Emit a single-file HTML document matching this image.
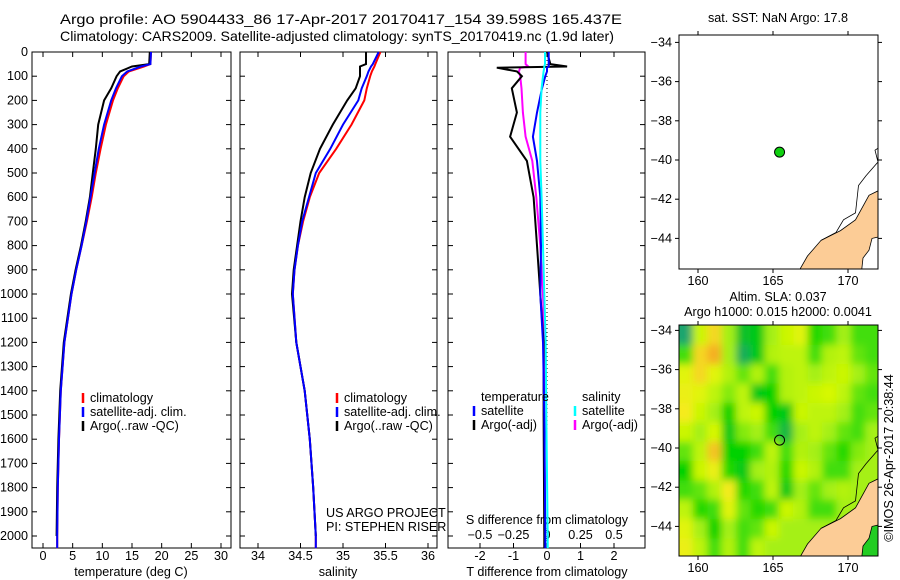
<!DOCTYPE html>
<html><head><meta charset="utf-8"><style>
html,body{margin:0;padding:0;background:#fff}
svg{display:block;font-family:"Liberation Sans",sans-serif}
text{font-size:12.6px;fill:#000}
</style></head><body>
<svg id="chart" width="900" height="580" viewBox="0 0 900 580">
<text x="60" y="24" style="font-size:14px" textLength="562" lengthAdjust="spacingAndGlyphs">Argo profile: AO 5904433_86 17-Apr-2017 20170417_154 39.598S 165.437E</text>
<text x="60" y="41" style="font-size:14px" textLength="554" lengthAdjust="spacingAndGlyphs">Climatology: CARS2009. Satellite-adjusted climatology: synTS_20170419.nc (1.9d later)</text>
<g id="g"></g>
</svg>
<script>
// ---- data ----
const depths=[0,50,60,80,100,150,200,300,400,500,600,700,800,900,1000,1200,1400,1600,1800,2000,2050];
const climT=[18.2,18.1,17,14.5,13.6,12.6,11.8,10.6,9.7,8.9,8.2,7.4,6.5,5.6,4.8,3.6,3.0,2.7,2.5,2.4,2.4];
const satT=[18.2,18.1,16.5,14.2,13.3,12.3,11.5,10.3,9.4,8.7,8.0,7.3,6.5,5.6,4.8,3.6,3.0,2.7,2.5,2.4,2.4];
const argoT=[18.0,17.9,15,13.0,12.4,11.5,10.3,9.3,8.9,8.4,7.9,7.2,6.4,5.5,4.7,3.5,2.9,2.6,2.4,2.3,2.3];
const climS=[35.44,35.38,35.37,35.34,35.32,35.28,35.25,35.1,34.92,34.72,34.61,34.53,34.47,34.43,34.41,34.45,34.55,34.61,34.65,34.68,34.68];
const satS=[35.42,35.35,35.33,35.3,35.28,35.22,35.18,35.0,34.85,34.68,34.6,34.52,34.47,34.43,34.41,34.45,34.55,34.61,34.65,34.68,34.68];
const argoS=[35.27,35.27,35.2,35.2,35.2,35.15,35.05,34.88,34.73,34.62,34.55,34.5,34.46,34.42,34.40,34.45,34.55,34.61,34.65,34.68,34.68];
const diffDepths=[0,50,60,65,80,100,150,250,350,450,600,800,1000,1200,1500,2000,2050];
const argoTdiff=[0,0.1,0.6,-1.5,-0.9,-0.75,-1.05,-0.9,-1.1,-0.6,-0.4,-0.3,-0.2,-0.1,-0.1,-0.08,-0.08];
const satTdiff=[0.05,0.05,0.05,0.0,0.0,-0.05,-0.15,-0.3,-0.42,-0.3,-0.2,-0.18,-0.2,-0.12,-0.08,-0.05,-0.05];
const argoSdiff=[-0.16,-0.16,-0.14,-0.2,-0.21,-0.2,-0.19,-0.18,-0.16,-0.11,-0.08,-0.05,-0.03,-0.02,-0.02,-0.015,-0.015];
const satSdiff=[-0.015,-0.015,-0.02,-0.02,-0.025,-0.03,-0.04,-0.05,-0.05,-0.05,-0.04,-0.03,-0.02,-0.01,-0.005,0.005,0.005];
const depthTicks=[0,100,200,300,400,500,600,700,800,900,1000,1100,1200,1300,1400,1500,1600,1700,1800,1900,2000];
const tTicks=[0,5,10,15,20,25,30];
const sTicks=[34,34.5,35,35.5,36];
const tdTicks=[-2,-1,0,1,2];
const sdTicks=[-0.5,-0.25,0,0.25,0.5];
const sdTickLabels=["\u22120.5","\u22120.25","0","0.25","0.5"];
const lonTicks=[160,165,170];
const latTicks=[-34,-36,-38,-40,-42,-44];
const argoLon=165.437, argoLat=-39.598;
const slaGrid=[
[-1,0.3,0.8,0,-0.7,-0.6,0,0.3,0.5,-0.4,-0.3,0,-0.3,-0.3],
[-0.3,0.8,1,0,-0.9,-0.6,0.1,0.2,0.2,-0.3,0.1,0.2,-0.2,-0.3],
[0.5,0.8,0.5,0.1,-0.2,0.1,-0.3,0.1,0.2,0,0.2,0.3,0,-0.2],
[0.6,0.5,0.2,-0.1,0.2,-0.6,-0.5,0.1,0.2,0.3,0.4,0.2,-0.2,-0.3],
[0.7,0.3,0,-0.5,0.2,0.3,-0.5,-0.6,0.3,0.2,0.2,0,-0.3,-0.2],
[0.3,0,0.4,-0.6,-0.1,0,-0.3,-0.8,0,0.2,0,-0.2,-0.3,0],
[-0.2,0.2,0.9,-0.5,-0.5,-0.3,0.2,-0.3,0.1,0,-0.2,-0.4,-0.1,0],
[-0.5,0.3,0.6,-0.4,-0.6,0,0.1,-0.4,0.3,0.1,-0.3,-0.3,0,0],
[-0.3,-0.2,0.1,0.7,-0.4,-0.3,0.2,-0.6,0,-0.2,0,0.1,0,0],
[0.2,-0.4,-0.3,0.5,-0.2,-0.4,-0.3,0.3,0.1,-0.3,-0.3,0,0,0],
[0.5,0,-0.5,0,-0.3,-0.2,0.3,0,0,0,0,0,-0.5,-0.5],
[0.6,0.2,-0.3,0.1,-0.3,0.2,0,0,0,0,0,0,-0.5,-0.5]];
const landPoly=[[172.2,-41.5],[171.4,-41.8],[170.5,-43.05],[169.5,-43.6],[168.2,-44.1],[167.3,-44.9],[166.7,-45.7],[172.2,-45.7]];
const lakePoly=[[172.2,-43.9],[171.6,-44.0],[171.4,-44.6],[171.0,-45.0],[170.9,-45.7],[172.2,-45.7]];
const coastLine=[[172.2,-39.3],[171.8,-39.5],[172.0,-40.1],[171.2,-40.8],[170.7,-41.3],[170.5,-42.7],[169.7,-43.05],[169.2,-43.7],[168.2,-44.1]];

// ---- helpers ----
const NS="http://www.w3.org/2000/svg";
const G=document.getElementById('g');
function mk(tag,attrs,parent){const e=document.createElementNS(NS,tag);for(const k in attrs)e.setAttribute(k,attrs[k]);(parent||G).appendChild(e);return e;}
function txt(x,y,s,anchor,parent){const t=mk('text',{x:x,y:y,'text-anchor':anchor||'start'},parent);t.textContent=s;return t;}
const Y0=52, PY=0.242;
function yD(d){return Y0+d*PY;}
const BOT=548;
function scale(v0,x0,v1,x1){return v=>x0+(v-v0)*(x1-x0)/(v1-v0);}
const xT=scale(0,43,30,221);
const xS=scale(34,258,36,428);
const xTd=scale(0,547,2,614);
const xSd=scale(0,547,0.5,614);

function frame(x0,x1,name){
  const r=mk('rect',{x:x0,y:Y0,width:x1-x0,height:BOT-Y0,fill:'none',stroke:'#000','stroke-width':1});
  
  
  depthTicks.forEach(d=>{mk('line',{x1:x0,x2:x0+5,y1:yD(d),y2:yD(d),stroke:'#000'});mk('line',{x1:x1-5,x2:x1,y1:yD(d),y2:yD(d),stroke:'#000'});});
}
function xticks(ticks,f,labels,ly){
  ticks.forEach((v,i)=>{const x=f(v);mk('line',{x1:x,x2:x,y1:BOT,y2:BOT-5,stroke:'#000'});mk('line',{x1:x,x2:x,y1:Y0,y2:Y0+5,stroke:'#000'});
    const t=txt(x,ly,labels?labels[i]:String(v),'middle');
    
    });
}
function line(vals,ds,f,color,name,w){
  const pts=vals.map((v,i)=>f(v).toFixed(1)+','+yD(ds[i]).toFixed(1)).join(' ');
  const p=mk('polyline',{points:pts,fill:'none',stroke:color,'stroke-width':w||2,'stroke-linejoin':'miter'});
  
  
}
function legend(x,y,color,label,name){
  mk('line',{x1:x,x2:x,y1:y-9,y2:y+1,stroke:color,'stroke-width':2.5});
  const t=txt(x+7,y,label);
  
  
}

// ---- panel 1: temperature ----
frame(32,231,'temperature-panel');
depthTicks.forEach(d=>{const t=txt(28,yD(d)+4,String(d),'end');
  
  });
xticks(tTicks,xT,null,560);
let t1=txt(131,576,'temperature (deg C)','middle');


line(climT,depths,xT,'#f00','climatology-temperature-line');
line(argoT.slice(0,20),depths.slice(0,20),xT,'#000','argo-temperature-line');
line(satT,depths,xT,'#00f','satellite-temperature-line');
legend(83,402,'#f00','climatology','legend-climatology');
legend(83,416,'#00f','satellite-adj. clim.','legend-satellite');
legend(83,430,'#000','Argo(..raw -QC)','legend-argo');

// ---- panel 2: salinity ----
frame(240,437,'salinity-panel');
xticks(sTicks,xS,null,560);
let t2=txt(338,576,'salinity','middle');


line(climS,depths,xS,'#f00','climatology-salinity-line');
line(argoS.slice(0,20),depths.slice(0,20),xS,'#000','argo-salinity-line');
line(satS,depths,xS,'#00f','satellite-salinity-line');
legend(337,402,'#f00','climatology','legend-climatology-s');
legend(337,416,'#00f','satellite-adj. clim.','legend-satellite-s');
legend(337,430,'#000','Argo(..raw -QC)','legend-argo-s');
let pa=txt(326,517,'US ARGO PROJECT');
let pb=txt(326,531,'PI: STEPHEN RISER');

// ---- panel 3: differences ----
frame(448,645,'difference-panel');
xticks(tdTicks,xTd,null,560);
sdTicks.forEach((v,i)=>{const t=txt(xSd(v),539,sdTickLabels[i],'middle');
  
  });
let t3=txt(547,524,'S difference from climatology','middle');
let t4=txt(547,576,'T difference from climatology','middle');
mk('line',{x1:xTd(0),x2:xTd(0),y1:Y0,y2:BOT,stroke:'#000','stroke-dasharray':'1,3'});
line(argoSdiff,diffDepths,xSd,'#f0f','argo-salinity-diff-line');
line(argoTdiff,diffDepths,xTd,'#000','argo-temperature-diff-line');
line(satTdiff,diffDepths,xTd,'#00f','satellite-temperature-diff-line');
line(satSdiff,diffDepths,xSd,'#0ff','satellite-salinity-diff-line');
let lt=txt(481,401,'temperature');
let ls=txt(582,401,'salinity');
legend(474,415,'#00f','satellite','legend-t-satellite');
legend(474,429,'#000','Argo(-adj)','legend-t-argo');
legend(575,415,'#0ff','satellite','legend-s-satellite');
legend(575,429,'#f0f','Argo(-adj)','legend-s-argo');

// ---- maps ----
const xLon=scale(160,698,170,848);
function mapAxes(top,bot,yLat,name){
  const r=mk('rect',{x:679,y:top,width:199,height:bot-top,fill:'none',stroke:'#000'});
  
  
  lonTicks.forEach(v=>{const x=xLon(v);mk('line',{x1:x,x2:x,y1:top,y2:top-4,stroke:'#000'});mk('line',{x1:x,x2:x,y1:bot,y2:bot+4,stroke:'#000'});
    const t=txt(x,bot+16,String(v),'middle');});
  latTicks.forEach(v=>{const y=yLat(v);mk('line',{x1:679,x2:675,y1:y,y2:y,stroke:'#000'});mk('line',{x1:878,x2:882,y1:y,y2:y,stroke:'#000'});
    const t=txt(672,y+4,String(v).replace('-','\u2212'),'end');});
}
function poly(arr,yLat,fill,parent){return mk('polygon',{points:arr.map(p=>xLon(p[0]).toFixed(1)+','+yLat(p[1]).toFixed(1)).join(' '),fill:fill,stroke:'#000','stroke-width':0.8},parent);}
function pline(arr,yLat,parent){return mk('polyline',{points:arr.map(p=>xLon(p[0]).toFixed(1)+','+yLat(p[1]).toFixed(1)).join(' '),fill:'none',stroke:'#000','stroke-width':0.8},parent);}
const defs=mk('defs',{});
const cp1=mk('clipPath',{id:'c1'},defs);mk('rect',{x:679,y:35,width:199,height:234},cp1);
const cp2=mk('clipPath',{id:'c2'},defs);mk('rect',{x:679,y:325,width:199,height:231},cp2);
const flt=mk('filter',{id:'bl',x:'-10%',y:'-10%',width:'120%',height:'120%'},defs);mk('feGaussianBlur',{stdDeviation:4},flt);

// map 1
const yLat1=scale(-40,160,-34,42.4);
let m1t=txt(778,22,'sat. SST: NaN Argo: 17.8','middle');
const g1=mk('g',{'clip-path':'url(#c1)'});


poly(landPoly,yLat1,'#fccc96',g1);
poly(lakePoly,yLat1,'#fff',g1);
pline(coastLine,yLat1,g1);
const d1=mk('circle',{cx:xLon(argoLon),cy:yLat1(argoLat),r:5,fill:'#10d010',stroke:'#000','stroke-width':1});


mapAxes(35,269,yLat1,'sst-map-frame');

// map 2
const yLat2=scale(-40,448,-34,330.4);
let m2a=txt(778,301,'Altim. SLA: 0.037','middle');
let m2b=txt(778,316,'Argo h1000: 0.015 h2000: 0.0041','middle');
function slaColor(v){
  const stops=[[-1,[30,165,110]],[-0.5,[0,210,0]],[0,[165,240,20]],[0.4,[215,248,0]],[0.7,[245,235,30]],[1,[245,175,35]]];
  for(let i=1;i<stops.length;i++){if(v<=stops[i][0]){const a=stops[i-1],b=stops[i],f=(v-a[0])/(b[0]-a[0]);
    return 'rgb('+a[1].map((c,k)=>Math.round(c+(b[1][k]-c)*f)).join(',')+')';}}
  return 'rgb(245,175,35)';
}
const g2=mk('g',{'clip-path':'url(#c2)'});


mk('rect',{x:679,y:325,width:199,height:231,fill:slaColor(0)},g2);
const hg=mk('g',{filter:'url(#bl)'},g2);
const nC=slaGrid[0].length,nR=slaGrid.length,lon0=158.7,lon1=172.1,lat0=-33.75,lat1=-45.6;
slaGrid.forEach((row,r)=>row.forEach((v,c)=>{
  const xa=xLon(lon0+(lon1-lon0)*c/nC),xb=xLon(lon0+(lon1-lon0)*(c+1)/nC);
  const ya=yLat2(lat0+(lat1-lat0)*r/nR),yb=yLat2(lat0+(lat1-lat0)*(r+1)/nR);
  const cell=mk('rect',{x:c===0?xa-12:xa,y:r===0?ya-12:ya,width:(xb-xa)+(c===0||c===nC-1?12:0)+0.5,height:(yb-ya)+(r===0||r===nR-1?12:0)+0.5,fill:slaColor(v)},hg);
  
  
}));
poly(landPoly,yLat2,'#fccc96',g2);
poly(lakePoly,yLat2,'#22cc22',g2);
pline(coastLine,yLat2,g2);
const d2=mk('circle',{cx:xLon(argoLon),cy:yLat2(argoLat),r:5,fill:'none',stroke:'#000','stroke-width':1});


mapAxes(325,556,yLat2,'sla-map-frame');
const cr=txt(0,0,'\u00a9IMOS 26-Apr-2017 20:38:44','middle');
cr.setAttribute('transform','translate(893,458) rotate(-90)');


</script>
</body></html>
